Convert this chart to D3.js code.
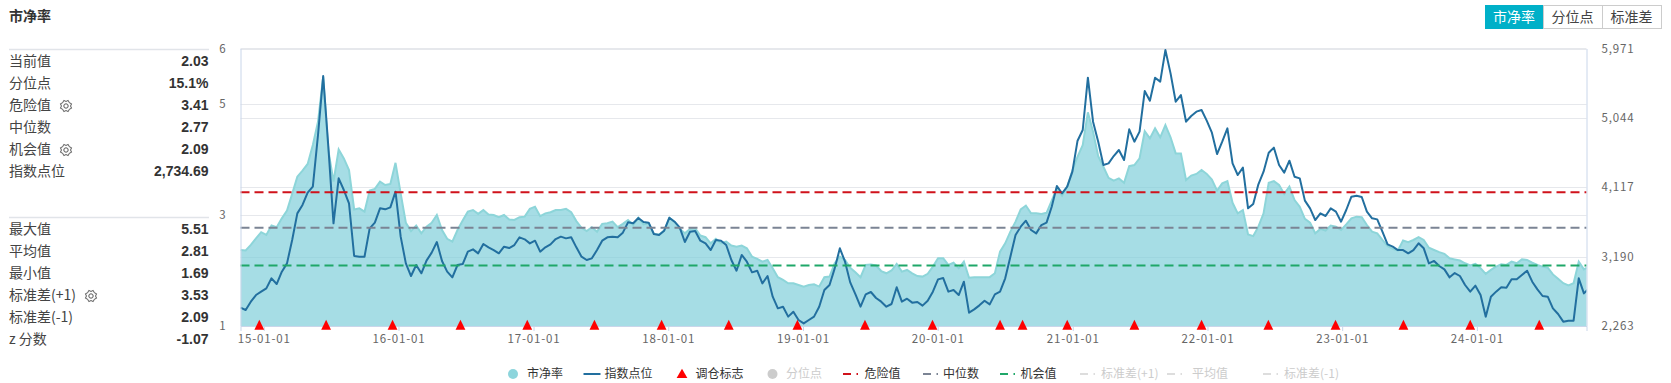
<!DOCTYPE html>
<html>
<head>
<meta charset="utf-8">
<script src="https://cdn.jsdelivr.net/npm/d3@7"></script>
<style>
  html, body { margin: 0; padding: 0; background: #fff; }
  text { font-family: "Noto Sans CJK SC", "Liberation Sans", sans-serif; }
  .num { font-family: "Liberation Sans", Arial, sans-serif; }
  .axis path, .axis line { stroke: #c9d6ea; }
  .axis text { fill: #666; font-size: 11.5px; letter-spacing: .85px; }
</style>
</head>
<body>
<div id="chart"></div>
<script>
// sampled every 14 days from 2014-10-30
var pbValues = [
  2.37,2.36,2.46,2.58,2.69,2.64,2.81,2.78,2.94,3.08,3.38,3.69,3.80,3.92,4.26,4.68,5.49,4.17,3.60,4.18,
  4.02,3.81,3.10,3.12,3.06,3.44,3.47,3.60,3.54,3.56,3.94,3.39,2.86,2.71,2.81,2.67,2.79,2.86,3.00,2.73,
  2.57,2.52,2.73,2.90,3.06,3.09,3.02,3.09,3.01,3.00,2.96,3.00,2.92,2.91,2.96,2.97,3.11,3.15,2.98,3.03,
  3.05,3.09,3.09,3.11,3.05,2.89,2.77,2.71,2.78,2.70,2.84,2.85,2.88,2.78,2.84,2.91,2.82,2.95,2.83,2.85,
  2.66,2.65,2.72,2.95,2.88,2.75,2.67,2.75,2.76,2.63,2.60,2.49,2.57,2.49,2.52,2.45,2.43,2.45,2.40,2.25,
  2.21,2.16,2.19,2.04,1.88,1.83,1.77,1.77,1.74,1.71,1.74,1.75,1.71,1.88,1.89,2.13,2.25,2.19,2.05,1.97,
  1.88,2.10,2.11,2.09,1.99,1.95,2.00,2.12,1.98,2.01,1.95,1.90,1.89,1.94,2.07,2.22,2.22,2.10,2.14,2.04,
  2.16,1.87,1.88,1.88,1.88,1.88,1.95,2.34,2.49,2.70,2.88,3.10,3.17,3.03,3.03,3.02,3.04,3.26,3.48,3.35,
  3.51,3.80,4.05,4.26,4.85,4.50,4.06,3.87,3.67,3.62,3.66,3.58,3.88,3.90,4.02,4.51,4.38,4.56,4.40,4.62,
  4.40,4.11,4.11,3.63,3.71,3.74,3.81,3.74,3.64,3.44,3.57,3.61,3.22,3.03,3.09,2.65,2.62,2.79,3.03,3.58,
  3.61,3.54,3.38,3.51,3.27,3.15,2.93,2.86,2.67,2.75,2.72,2.81,2.79,2.73,2.83,2.94,2.97,2.96,2.82,2.70,
  2.67,2.55,2.44,2.39,2.36,2.54,2.51,2.55,2.60,2.55,2.41,2.37,2.33,2.30,2.22,2.20,2.18,2.13,2.09,2.12,
  2.04,1.94,2.01,2.07,2.11,2.10,2.16,2.13,2.20,2.19,2.14,2.10,2.07,2.05,1.93,1.85,1.77,1.73,1.77,2.16,
  2.02,2.07
];
var indexValues = [
  2508,2477,2588,2677,2722,2766,2900,2824,2989,3100,3412,3768,3880,4044,4125,4815,5603,4659,3635,4236,
  4080,3902,3198,3189,3189,3568,3644,3835,3822,3848,4058,3457,3100,2931,3078,2967,3136,3243,3385,3131,
  2989,2913,3078,3091,3256,3287,3234,3359,3314,3278,3234,3323,3305,3345,3448,3421,3367,3403,3256,3314,
  3354,3425,3457,3434,3448,3314,3189,3145,3167,3278,3403,3448,3457,3448,3510,3648,3635,3706,3652,3644,
  3492,3479,3537,3710,3657,3581,3385,3523,3532,3403,3367,3278,3412,3403,3345,3145,3002,3212,3122,2980,
  3002,2833,2931,2655,2499,2521,2388,2454,2343,2298,2343,2388,2521,2744,2811,3033,3301,3122,2846,2690,
  2521,2686,2717,2637,2588,2521,2557,2780,2588,2628,2575,2584,2535,2601,2722,2886,2904,2722,2744,2677,
  2855,2441,2485,2539,2601,2552,2686,2722,2900,3189,3479,3590,3670,3546,3501,3612,3644,3857,4134,4036,
  4125,4325,4739,4882,5581,4993,4726,4414,4436,4534,4615,4481,4891,4726,4860,5403,5274,5581,5528,5950,
  5639,5260,5349,4993,5069,5127,5149,5007,4846,4561,4726,4904,4437,4281,4379,3835,3893,4156,4325,4579,
  4646,4414,4312,4472,4258,4236,3938,3835,3679,3768,3733,3835,3791,3657,3813,3991,4004,3987,3791,3702,
  3688,3523,3354,3323,3278,3278,3234,3278,3368,3301,3100,3132,3065,3020,2913,2971,2931,2811,2722,2802,
  2677,2388,2655,2722,2780,2775,2887,2887,2944,3002,2855,2753,2664,2655,2499,2423,2321,2334,2334,2900,
  2699,2766
];
var rebalanceDates = [
  "14-12-20","15-06-19","15-12-16","16-06-17","16-12-15","17-06-15","17-12-14","18-06-14",
  "18-12-17","19-06-18","19-12-18","20-06-18","20-08-18","20-12-17","21-06-17","21-12-16",
  "22-06-15","22-12-14","23-06-16","23-12-14","24-06-18"
];
var xTickLabels = ["15-01-01","16-01-01","17-01-01","18-01-01","19-01-01","20-01-01","21-01-01","22-01-01","23-01-01","24-01-01"];
var leftTicks = [1, 3, 5, 6];
var rightTicks = [2263, 3190, 4117, 5044, 5971];

var dangerValue = 3.41, medianValue = 2.77, chanceValue = 2.09;

var statLabels1 = ["当前值", "分位点", "危险值", "中位数", "机会值", "指数点位"];
var statValues1 = ["2.03", "15.1%", "3.41", "2.77", "2.09", "2,734.69"];
var statLabels2 = ["最大值", "平均值", "最小值", "标准差(+1)", "标准差(-1)", "z 分数"];
var statValues2 = ["5.51", "2.81", "1.69", "3.53", "2.09", "-1.07"];
var buttonNames = ["市净率", "分位点", "标准差"];
var legendNames = ["市净率", "指数点位", "调仓标志", "分位点", "危险值", "中位数", "机会值", "标准差(+1)", "平均值", "标准差(-1)"];

var width = 1671, height = 383;
var plot = {left: 240.5, right: 1586.5, top: 48.5, bottom: 326};

var parseDate = d3.timeParse("%y-%m-%d");
var start = new Date(2014, 9, 30);
var dates = pbValues.map(function(d, i) { return d3.timeDay.offset(start, i * 14); });

var svg = d3.select("#chart").append("svg")
    .attr("width", width)
    .attr("height", height)
    .style("display", "block");

var x = d3.scaleTime()
    .domain([start, d3.timeDay.offset(start, 3647)])
    .range([plot.left, plot.right]);

var yLeft = d3.scaleLinear().domain([1, 6]).range([plot.bottom, plot.top]);
var yRight = d3.scaleLinear().domain([2263, 5971]).range([plot.bottom, plot.top]);

svg.append("defs").append("clipPath")
    .attr("id", "plot-clip")
  .append("rect")
    .attr("x", plot.left)
    .attr("y", plot.top - 2)
    .attr("width", plot.right - plot.left)
    .attr("height", plot.bottom - plot.top + 2);

// grid lines, one set from each value axis
var gridY = leftTicks.slice(1).map(yLeft).concat(rightTicks.slice(1, 4).map(yRight));
svg.selectAll(".grid")
    .data(gridY)
  .enter().append("line")
    .attr("class", "grid")
    .attr("x1", plot.left)
    .attr("x2", plot.right)
    .attr("y1", function(d) { return Math.round(d) + 0.5; })
    .attr("y2", function(d) { return Math.round(d) + 0.5; })
    .style("stroke", "#e6e8ec")
    .style("stroke-width", 1);

var chart = svg.append("g").attr("clip-path", "url(#plot-clip)");

var area = d3.area()
    .x(function(d, i) { return x(dates[i]); })
    .y0(plot.bottom)
    .y1(function(d) { return yLeft(d); });

var pbLine = d3.line()
    .x(function(d, i) { return x(dates[i]); })
    .y(function(d) { return yLeft(d); });

var indexLine = d3.line()
    .x(function(d, i) { return x(dates[i]); })
    .y(function(d) { return yRight(d); });

chart.append("path")
    .attr("d", area(pbValues))
    .style("fill", "#7ccdd9")
    .style("fill-opacity", 0.68);

chart.append("path")
    .attr("d", pbLine(pbValues))
    .style("fill", "none")
    .style("stroke", "#8dd5d9")
    .style("stroke-width", 2);

var refLines = [
  {value: dangerValue, color: "#d0121b"},
  {value: medianValue, color: "#7b8494"},
  {value: chanceValue, color: "#1fa769"}
];

svg.selectAll(".ref")
    .data(refLines)
  .enter().append("line")
    .attr("class", "ref")
    .attr("x1", plot.left)
    .attr("x2", plot.right)
    .attr("y1", function(d) { return yLeft(d.value); })
    .attr("y2", function(d) { return yLeft(d.value); })
    .style("stroke", function(d) { return d.color; })
    .style("stroke-width", 2)
    .style("stroke-dasharray", "9,5");

chart.append("path")
    .attr("d", indexLine(indexValues))
    .style("fill", "none")
    .style("stroke", "#226f9f")
    .style("stroke-width", 2)
    .style("stroke-linejoin", "round");

// axes
var xAxis = d3.axisBottom(x)
    .tickValues(xTickLabels.map(parseDate))
    .tickFormat(d3.timeFormat("%y-%m-%d"))
    .tickSize(5)
    .tickPadding(4);

svg.append("g")
    .attr("class", "x axis")
    .attr("transform", "translate(0," + plot.bottom + ")")
    .call(xAxis);

var leftAxis = d3.axisLeft(yLeft)
    .tickValues(leftTicks)
    .tickSize(0)
    .tickPadding(14)
    .tickFormat(d3.format("d"));

svg.append("g")
    .attr("class", "y axis num")
    .attr("transform", "translate(" + plot.left + ",0)")
    .call(leftAxis);

var rightAxis = d3.axisRight(yRight)
    .tickValues(rightTicks)
    .tickSize(0)
    .tickPadding(15)
    .tickFormat(d3.format(","));

svg.append("g")
    .attr("class", "y axis num")
    .attr("transform", "translate(" + plot.right + ",0)")
    .call(rightAxis);

svg.append("line")
    .attr("x1", plot.left)
    .attr("x2", plot.right)
    .attr("y1", plot.top)
    .attr("y2", plot.top)
    .style("stroke", "#e6e8ec");

// rebalance markers
var triangle = d3.symbol().type(d3.symbolTriangle).size(40);
svg.selectAll(".marker")
    .data(rebalanceDates)
  .enter().append("path")
    .attr("class", "marker")
    .attr("d", triangle)
    .attr("transform", function(d) { return "translate(" + x(parseDate(d)) + "," + (plot.bottom + 0.4) + ") scale(1.02,1.18)"; })
    .style("fill", "#ff0000");

// title and buttons
svg.append("text")
    .attr("x", 9)
    .attr("y", 21)
    .style("font-size", "14px")
    .style("font-weight", "bold")
    .style("fill", "#333")
    .text("市净率");

var buttonX = [1485, 1543, 1602, 1661];
var buttons = svg.selectAll(".button")
    .data(buttonNames)
  .enter().append("g")
    .attr("class", "button");

buttons.append("rect")
    .attr("x", function(d, i) { return buttonX[i] + 0.5; })
    .attr("y", 5.5)
    .attr("width", function(d, i) { return buttonX[i + 1] - buttonX[i]; })
    .attr("height", 23)
    .style("fill", function(d, i) { return i == 0 ? "#00b0c8" : "#fff"; })
    .style("stroke", function(d, i) { return i == 0 ? "#00b0c8" : "#ccc"; });

buttons.append("text")
    .attr("x", function(d, i) { return (buttonX[i] + buttonX[i + 1]) / 2; })
    .attr("y", 22)
    .attr("text-anchor", "middle")
    .style("font-size", "14px")
    .style("fill", function(d, i) { return i == 0 ? "#fff" : "#444"; })
    .text(function(d) { return d; });

// left side tables
function gear(g, cx, cy) {
  var radial = d3.lineRadial()
      .angle(function(d, i) { return i * Math.PI / 8; })
      .radius(function(d, i) { return i % 2 ? 6 : 4.6; })
      .curve(d3.curveLinearClosed);
  g.append("path")
      .attr("d", radial(d3.range(16)))
      .attr("transform", "translate(" + cx + "," + cy + ")")
      .style("fill", "none")
      .style("stroke", "#555");
  g.append("circle")
      .attr("cx", cx)
      .attr("cy", cy)
      .attr("r", 2.2)
      .style("fill", "none")
      .style("stroke", "#555");
}

function table(labels, values, top) {
  var g = svg.append("g");

  g.append("line")
      .attr("x1", 9)
      .attr("x2", 209)
      .attr("y1", top)
      .attr("y2", top)
      .style("stroke", "#e1e4e9")
      .style("stroke-width", 1.5);

  labels.forEach(function(label, i) {
    var y = top + 11.5 + i * 22;
    g.append("text")
        .attr("x", 9)
        .attr("y", y + 5)
        .style("font-size", "14px")
        .style("fill", "#444")
        .text(label);
    g.append("text")
        .attr("class", "num")
        .attr("x", 208.5)
        .attr("y", y + 5)
        .attr("text-anchor", "end")
        .style("font-size", "14px")
        .style("font-weight", "bold")
        .style("fill", "#333")
        .text(values[i]);
  });
  return g;
}

var t1 = table(statLabels1, statValues1, 49.5);
var t2 = table(statLabels2, statValues2, 217.5);
gear(t1, 66, 106);
gear(t1, 66, 150);
gear(t2, 91, 296);

// legend
var legendY = 374;
var legendTextX = [527, 604.5, 695.5, 786, 864.5, 943, 1020.5, 1101, 1192, 1284];
var legendIconX = [513, 592, 682, 772.5, 850, 930, 1007, 1087, 1174, 1270];
var legend = svg.selectAll(".legend")
    .data(legendNames)
  .enter().append("g")
    .attr("class", "legend");

legend.append("text")
    .attr("x", function(d, i) { return legendTextX[i]; })
    .attr("y", legendY + 4)
    .style("font-size", "12px")
    .style("fill", function(d, i) { return (i == 3 || i > 6) ? "#ccc" : "#333"; })
    .text(function(d) { return d; });

var dashColors = {4: "#d0121b", 5: "#7b8494", 6: "#1fa769", 7: "#ddd", 8: "#ddd", 9: "#ddd"};

legend.each(function(d, i) {
  var g = d3.select(this), cx = legendIconX[i];
  if (i == 0 || i == 3) {
    g.append("circle")
        .attr("cx", cx)
        .attr("cy", legendY)
        .attr("r", 5)
        .style("fill", i == 0 ? "#8dd5dc" : "#ccc");
  } else if (i == 1) {
    g.append("line")
        .attr("x1", cx - 8.5)
        .attr("x2", cx + 8.5)
        .attr("y1", legendY)
        .attr("y2", legendY)
        .style("stroke", "#226f9f")
        .style("stroke-width", 2);
  } else if (i == 2) {
    g.append("path")
        .attr("d", d3.symbol().type(d3.symbolTriangle).size(50))
        .attr("transform", "translate(" + cx + "," + (legendY + 1) + ")")
        .style("fill", "#ff0000");
  } else {
    g.append("line")
        .attr("x1", cx - 7)
        .attr("x2", cx + 8)
        .attr("y1", legendY)
        .attr("y2", legendY)
        .style("stroke", dashColors[i])
        .style("stroke-width", 2)
        .style("stroke-dasharray", "8,5.5");
  }
});
</script>
</body>
</html>
